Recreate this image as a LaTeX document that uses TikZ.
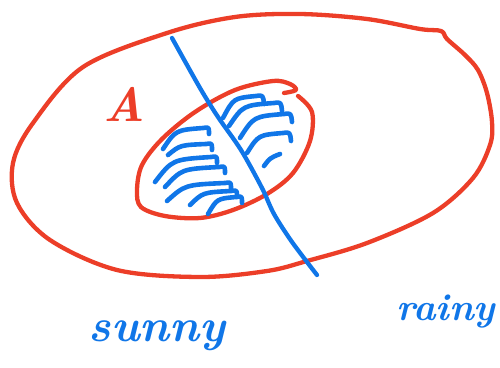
\documentclass[tikz,border=0pt]{standalone}
\usepackage{xcolor}
\usepackage{tikz}
\definecolor{setred}{RGB}{236, 62, 40}
\definecolor{penblue}{RGB}{16, 118, 232}

\begin{document}
\begin{tikzpicture}[x=1pt,y=-1pt,line cap=round,line join=round,
  redpen/.style={setred,line width=4.3pt},
  bluepen/.style={penblue,line width=4.3pt},
  hatch/.style={penblue,line width=4.6pt}]
\useasboundingbox (0,0) rectangle (500,367);
% outer set
\draw[redpen] plot[smooth cycle,tension=0.55] coordinates {(420,29) (441,31) (447,39) (465,55) (478,70) (487,93) (492,122) (490,145) (473,178) (433,213) (367,243) (307,261) (267,271) (200,277) (117,270) (50,240) (17,203) (13,163) (33,123) (83,67) (167,33) (235,17) (300,14) (367,19)};
% event A
\draw[redpen] plot[smooth,tension=0.55] coordinates {(298,96) (312,112) (310,141) (293,173) (267,194) (233,210) (200,218) (165,216) (141,207) (137,190) (142,165) (162,139) (195,112) (235,90) (273,81) (290,84) (296,90) (284,93)};
% split line
\draw[bluepen] plot[smooth,tension=0.5] coordinates {(172,38) (200,88) (218,117) (241,150) (262,188) (274,214) (292,242) (317,275)};
% shading of A
\foreach \sx/\sy/\ex/\ey in {163/149/205/128, 168/155/208/144, 155/182/213/157, 165/187/221/167, 167/201/227/183, 190/205/233/191, 208/214/238/197}
  \draw[hatch] (\sx,\sy) .. controls ({\sx+0.3*(\ex-\sx)},{\ey+0.1*(\sy-\ey)}) .. ({\ex-2},\ey) .. controls (\ex+4,{\ey-1}) .. (\ex+4,\ey+6);
\foreach \sx/\sy/\ex/\ey in {223/118/258/96, 229/126/276/103, 240/138/286/114, 247/153/285/133}
  \draw[hatch] (\sx,\sy) .. controls ({\sx+0.3*(\ex-\sx)},{\ey+0.1*(\sy-\ey)}) .. ({\ex-2},\ey) .. controls (\ex+5,{\ey-1}) .. (\ex+6,\ey+8);
\draw[hatch] (264,166) .. controls (270,158) .. (280,154);
% labels
\node[setred,font=\fontsize{48}{50}\selectfont\bfseries\itshape] (lblA) at (124,104) {A};
\node[penblue,font=\fontsize{46}{48}\selectfont\bfseries\itshape] (lblsun) at (157,336) {sunny};
\node[penblue,anchor=west,inner sep=0pt,font=\fontsize{38}{40}\selectfont\bfseries\itshape] (lblrain) at (396,312) {rainy};
\end{tikzpicture}
\end{document}
